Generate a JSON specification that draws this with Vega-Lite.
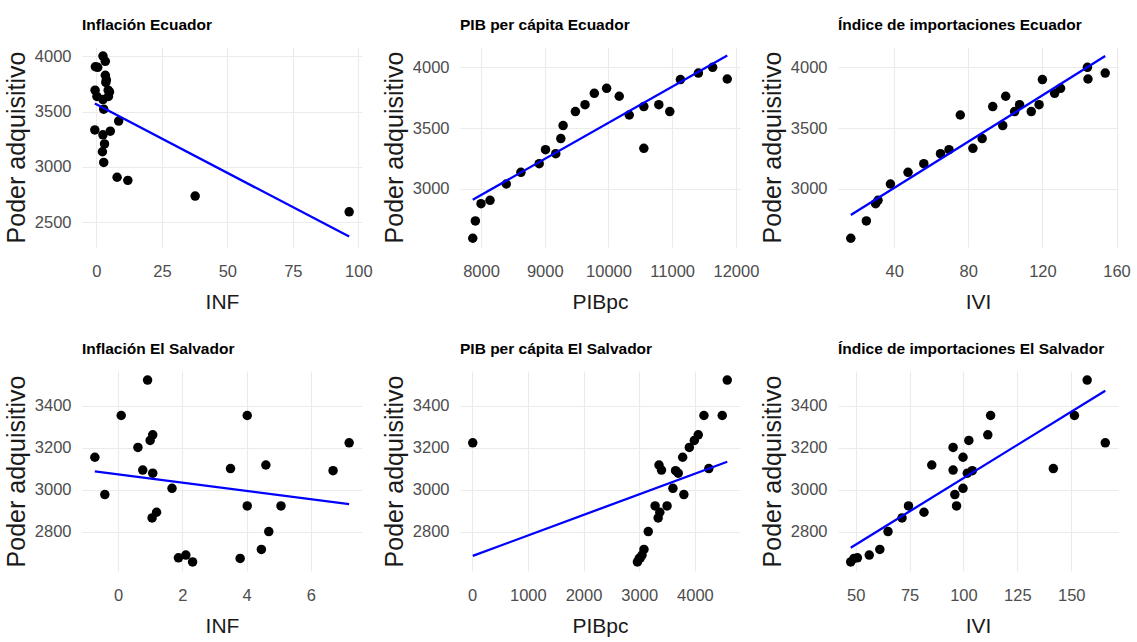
{
  "$schema": "https://vega.github.io/schema/vega-lite/v6.json",
  "background": "white",
  "padding": {"left": 4, "top": 17, "right": 5, "bottom": 5},
  "bounds": "flush",
  "columns": 3,
  "spacing": {"row": 124, "column": 98},
  "datasets": {
    "ecu": [
      {"INF": 96.5, "PIBpc": 7870, "IVI": 16.6, "PA": 2595},
      {"INF": 37.7, "PIBpc": 7911, "IVI": 25.0, "PA": 2737},
      {"INF": 12.0, "PIBpc": 8000, "IVI": 30.0, "PA": 2879},
      {"INF": 7.9, "PIBpc": 8141, "IVI": 31.3, "PA": 2907},
      {"INF": 2.8, "PIBpc": 8396, "IVI": 38.0, "PA": 3041},
      {"INF": 2.3, "PIBpc": 8626, "IVI": 47.5, "PA": 3137},
      {"INF": 3.1, "PIBpc": 8913, "IVI": 56.0, "PA": 3208},
      {"INF": 2.5, "PIBpc": 9173, "IVI": 65.0, "PA": 3290},
      {"INF": 5.3, "PIBpc": 9012, "IVI": 69.6, "PA": 3323},
      {"INF": -0.6, "PIBpc": 10555, "IVI": 82.5, "PA": 3334},
      {"INF": 8.5, "PIBpc": 9252, "IVI": 87.5, "PA": 3414},
      {"INF": 2.8, "PIBpc": 9288, "IVI": 98.6, "PA": 3521},
      {"INF": 2.5, "PIBpc": 10326, "IVI": 75.7, "PA": 3608},
      {"INF": 0.2, "PIBpc": 9481, "IVI": 105.0, "PA": 3636},
      {"INF": 4.6, "PIBpc": 10962, "IVI": 114.0, "PA": 3636},
      {"INF": 5.0, "PIBpc": 10555, "IVI": 93.2, "PA": 3677},
      {"INF": -0.5, "PIBpc": 9632, "IVI": 107.7, "PA": 3693},
      {"INF": 4.5, "PIBpc": 10790, "IVI": 118.2, "PA": 3693},
      {"INF": 3.6, "PIBpc": 10169, "IVI": 100.2, "PA": 3762},
      {"INF": 3.8, "PIBpc": 9778, "IVI": 126.6, "PA": 3786},
      {"INF": 3.4, "PIBpc": 9971, "IVI": 129.8, "PA": 3827},
      {"INF": 0.5, "PIBpc": 11129, "IVI": 120.0, "PA": 3899},
      {"INF": -0.4, "PIBpc": 11864, "IVI": 144.6, "PA": 3904},
      {"INF": 3.4, "PIBpc": 11411, "IVI": 153.9, "PA": 3953},
      {"INF": 2.5, "PIBpc": 11635, "IVI": 144.3, "PA": 4000}
    ],
    "slv": [
      {"INF": 0.92, "PIBpc": 4581, "IVI": 157.4, "PA": 3522},
      {"INF": 0.10, "PIBpc": 4162, "IVI": 112.6, "PA": 3353},
      {"INF": 4.02, "PIBpc": 4491, "IVI": 151.5, "PA": 3353},
      {"INF": 1.08, "PIBpc": 4060, "IVI": 111.3, "PA": 3261},
      {"INF": 1.00, "PIBpc": 3990, "IVI": 102.5, "PA": 3234},
      {"INF": 7.19, "PIBpc": 10, "IVI": 165.8, "PA": 3223},
      {"INF": 0.62, "PIBpc": 3900, "IVI": 95.2, "PA": 3201},
      {"INF": -0.72, "PIBpc": 3780, "IVI": 99.8, "PA": 3154},
      {"INF": 4.60, "PIBpc": 3355, "IVI": 85.3, "PA": 3117},
      {"INF": 3.50, "PIBpc": 4250, "IVI": 141.7, "PA": 3100},
      {"INF": 0.77, "PIBpc": 3400, "IVI": 95.2, "PA": 3093},
      {"INF": 6.69, "PIBpc": 3653, "IVI": 104.1, "PA": 3090},
      {"INF": 1.08, "PIBpc": 3701, "IVI": 101.8, "PA": 3078},
      {"INF": 1.68, "PIBpc": 3605, "IVI": 99.8, "PA": 3006},
      {"INF": -0.41, "PIBpc": 3802, "IVI": 96.0, "PA": 2976},
      {"INF": 4.02, "PIBpc": 3285, "IVI": 74.5, "PA": 2922},
      {"INF": 5.07, "PIBpc": 3500, "IVI": 96.8, "PA": 2922},
      {"INF": 1.20, "PIBpc": 3370, "IVI": 81.7, "PA": 2892},
      {"INF": 1.06, "PIBpc": 3340, "IVI": 71.5, "PA": 2865},
      {"INF": 4.69, "PIBpc": 3162, "IVI": 65.0, "PA": 2800},
      {"INF": 4.46, "PIBpc": 3085, "IVI": 61.2, "PA": 2715},
      {"INF": 2.11, "PIBpc": 3050, "IVI": 56.3, "PA": 2688},
      {"INF": 1.88, "PIBpc": 3020, "IVI": 50.8, "PA": 2675},
      {"INF": 3.80, "PIBpc": 3000, "IVI": 49.2, "PA": 2672},
      {"INF": 2.32, "PIBpc": 2968, "IVI": 47.7, "PA": 2655}
    ]
  },
  "concat": [
    {
      "width": 280, "height": 200,
      "title": "Inflación Ecuador",
      "data": {"name": "ecu"},
      "resolve": {"axis": {"x": "independent", "y": "independent"}},
      "layer": [
        {
          "mark": {"type": "circle", "size": 90, "color": "black", "opacity": 1},
          "encoding": {
            "x": {"field": "INF", "type": "quantitative", "title": "INF",
              "scale": {"domain": [-5.5, 101.4], "nice": false, "zero": false},
              "axis": {"orient": "bottom", "values": [0, 25, 50, 75, 100], "format": "d"}},
            "y": {"field": "PA", "type": "quantitative", "title": "Poder adquisitivo",
              "scale": {"domain": [2278, 4082], "nice": false, "zero": false},
              "axis": {"orient": "left", "values": [2500, 3000, 3500, 4000], "format": "d"}}
          }
        },
        {
          "transform": [{"regression": "PA", "on": "INF"}],
          "mark": {"type": "line", "color": "#0000ff", "strokeWidth": 2.3},
          "encoding": {
            "x": {"field": "INF", "type": "quantitative", "axis": {"orient": "bottom", "values": [12.5, 37.5, 62.5, 87.5], "labels": false, "title": null, "gridWidth": 0.55}},
            "y": {"field": "PA", "type": "quantitative", "axis": {"orient": "left", "values": [2750, 3250, 3750], "labels": false, "title": null, "gridWidth": 0.55}}
          }
        }
      ]
    },
    {
      "width": 280, "height": 200,
      "title": "PIB per cápita Ecuador",
      "data": {"name": "ecu"},
      "resolve": {"axis": {"x": "independent", "y": "independent"}},
      "layer": [
        {
          "mark": {"type": "circle", "size": 90, "color": "black", "opacity": 1},
          "encoding": {
            "x": {"field": "PIBpc", "type": "quantitative", "title": "PIBpc",
              "scale": {"domain": [7670, 12064], "nice": false, "zero": false},
              "axis": {"orient": "bottom", "values": [8000, 9000, 10000, 11000, 12000], "format": "d"}},
            "y": {"field": "PA", "type": "quantitative", "title": "Poder adquisitivo",
              "scale": {"domain": [2523, 4167], "nice": false, "zero": false},
              "axis": {"orient": "left", "values": [3000, 3500, 4000], "format": "d"}}
          }
        },
        {
          "transform": [{"regression": "PA", "on": "PIBpc"}],
          "mark": {"type": "line", "color": "#0000ff", "strokeWidth": 2.3},
          "encoding": {
            "x": {"field": "PIBpc", "type": "quantitative", "axis": {"orient": "bottom", "values": [8500, 9500, 10500, 11500], "labels": false, "title": null, "gridWidth": 0.55}},
            "y": {"field": "PA", "type": "quantitative", "axis": {"orient": "left", "values": [2750, 3250, 3750], "labels": false, "title": null, "gridWidth": 0.55}}
          }
        }
      ]
    },
    {
      "width": 280, "height": 200,
      "title": "Índice de importaciones Ecuador",
      "data": {"name": "ecu"},
      "resolve": {"axis": {"x": "independent", "y": "independent"}},
      "layer": [
        {
          "mark": {"type": "circle", "size": 90, "color": "black", "opacity": 1},
          "encoding": {
            "x": {"field": "IVI", "type": "quantitative", "title": "IVI",
              "scale": {"domain": [9.7, 160.8], "nice": false, "zero": false},
              "axis": {"orient": "bottom", "values": [40, 80, 120, 160], "format": "d"}},
            "y": {"field": "PA", "type": "quantitative", "title": "Poder adquisitivo",
              "scale": {"domain": [2523, 4167], "nice": false, "zero": false},
              "axis": {"orient": "left", "values": [3000, 3500, 4000], "format": "d"}}
          }
        },
        {
          "transform": [{"regression": "PA", "on": "IVI"}],
          "mark": {"type": "line", "color": "#0000ff", "strokeWidth": 2.3},
          "encoding": {
            "x": {"field": "IVI", "type": "quantitative", "axis": {"orient": "bottom", "values": [20, 60, 100, 140], "labels": false, "title": null, "gridWidth": 0.55}},
            "y": {"field": "PA", "type": "quantitative", "axis": {"orient": "left", "values": [2750, 3250, 3750], "labels": false, "title": null, "gridWidth": 0.55}}
          }
        }
      ]
    },
    {
      "width": 280, "height": 200,
      "title": "Inflación El Salvador",
      "data": {"name": "slv"},
      "resolve": {"axis": {"x": "independent", "y": "independent"}},
      "layer": [
        {
          "mark": {"type": "circle", "size": 90, "color": "black", "opacity": 1},
          "encoding": {
            "x": {"field": "INF", "type": "quantitative", "title": "INF",
              "scale": {"domain": [-1.12, 7.59], "nice": false, "zero": false},
              "axis": {"orient": "bottom", "values": [0, 2, 4, 6], "format": "d"}},
            "y": {"field": "PA", "type": "quantitative", "title": "Poder adquisitivo",
              "scale": {"domain": [2612, 3565], "nice": false, "zero": false},
              "axis": {"orient": "left", "values": [2800, 3000, 3200, 3400], "format": "d"}}
          }
        },
        {
          "transform": [{"regression": "PA", "on": "INF"}],
          "mark": {"type": "line", "color": "#0000ff", "strokeWidth": 2.3},
          "encoding": {
            "x": {"field": "INF", "type": "quantitative", "axis": {"orient": "bottom", "values": [-1, 1, 3, 5, 7], "labels": false, "title": null, "gridWidth": 0.55}},
            "y": {"field": "PA", "type": "quantitative", "axis": {"orient": "left", "values": [2700, 2900, 3100, 3300, 3500], "labels": false, "title": null, "gridWidth": 0.55}}
          }
        }
      ]
    },
    {
      "width": 280, "height": 200,
      "title": "PIB per cápita El Salvador",
      "data": {"name": "slv"},
      "resolve": {"axis": {"x": "independent", "y": "independent"}},
      "layer": [
        {
          "mark": {"type": "circle", "size": 90, "color": "black", "opacity": 1},
          "encoding": {
            "x": {"field": "PIBpc", "type": "quantitative", "title": "PIBpc",
              "scale": {"domain": [-219, 4810], "nice": false, "zero": false},
              "axis": {"orient": "bottom", "values": [0, 1000, 2000, 3000, 4000], "format": "d"}},
            "y": {"field": "PA", "type": "quantitative", "title": "Poder adquisitivo",
              "scale": {"domain": [2612, 3565], "nice": false, "zero": false},
              "axis": {"orient": "left", "values": [2800, 3000, 3200, 3400], "format": "d"}}
          }
        },
        {
          "transform": [{"regression": "PA", "on": "PIBpc"}],
          "mark": {"type": "line", "color": "#0000ff", "strokeWidth": 2.3},
          "encoding": {
            "x": {"field": "PIBpc", "type": "quantitative", "axis": {"orient": "bottom", "values": [500, 1500, 2500, 3500, 4500], "labels": false, "title": null, "gridWidth": 0.55}},
            "y": {"field": "PA", "type": "quantitative", "axis": {"orient": "left", "values": [2700, 2900, 3100, 3300, 3500], "labels": false, "title": null, "gridWidth": 0.55}}
          }
        }
      ]
    },
    {
      "width": 280, "height": 200,
      "title": "Índice de importaciones El Salvador",
      "data": {"name": "slv"},
      "resolve": {"axis": {"x": "independent", "y": "independent"}},
      "layer": [
        {
          "mark": {"type": "circle", "size": 90, "color": "black", "opacity": 1},
          "encoding": {
            "x": {"field": "IVI", "type": "quantitative", "title": "IVI",
              "scale": {"domain": [41.8, 171.7], "nice": false, "zero": false},
              "axis": {"orient": "bottom", "values": [50, 75, 100, 125, 150], "format": "d"}},
            "y": {"field": "PA", "type": "quantitative", "title": "Poder adquisitivo",
              "scale": {"domain": [2612, 3565], "nice": false, "zero": false},
              "axis": {"orient": "left", "values": [2800, 3000, 3200, 3400], "format": "d"}}
          }
        },
        {
          "transform": [{"regression": "PA", "on": "IVI"}],
          "mark": {"type": "line", "color": "#0000ff", "strokeWidth": 2.3},
          "encoding": {
            "x": {"field": "IVI", "type": "quantitative", "axis": {"orient": "bottom", "values": [62.5, 87.5, 112.5, 137.5, 162.5], "labels": false, "title": null, "gridWidth": 0.55}},
            "y": {"field": "PA", "type": "quantitative", "axis": {"orient": "left", "values": [2700, 2900, 3100, 3300, 3500], "labels": false, "title": null, "gridWidth": 0.55}}
          }
        }
      ]
    }
  ],
  "config": {
    "view": {"stroke": null},
    "title": {"anchor": "start", "frame": "group", "font": "Liberation Sans", "fontSize": 15.5, "fontWeight": "bold", "color": "#000000", "offset": 14},
    "axis": {
      "ticks": false, "domain": false, "grid": true, "gridColor": "#ebebeb", "gridWidth": 1.1,
      "labelFont": "Liberation Sans", "labelFontSize": 16.5, "labelColor": "#4d4d4d",
      "labelPadding": 11, "labelFlush": false,
      "titleFontWeight": "normal", "titleColor": "#1a1a1a"
    },
    "axisX": {"titleFont": "Liberation Sans", "titleFontSize": 21, "titlePadding": 12, "labelPadding": 16},
    "axisY": {"titleFont": "Liberation Sans", "titleFontSize": 25, "titlePadding": 5}
  }
}
